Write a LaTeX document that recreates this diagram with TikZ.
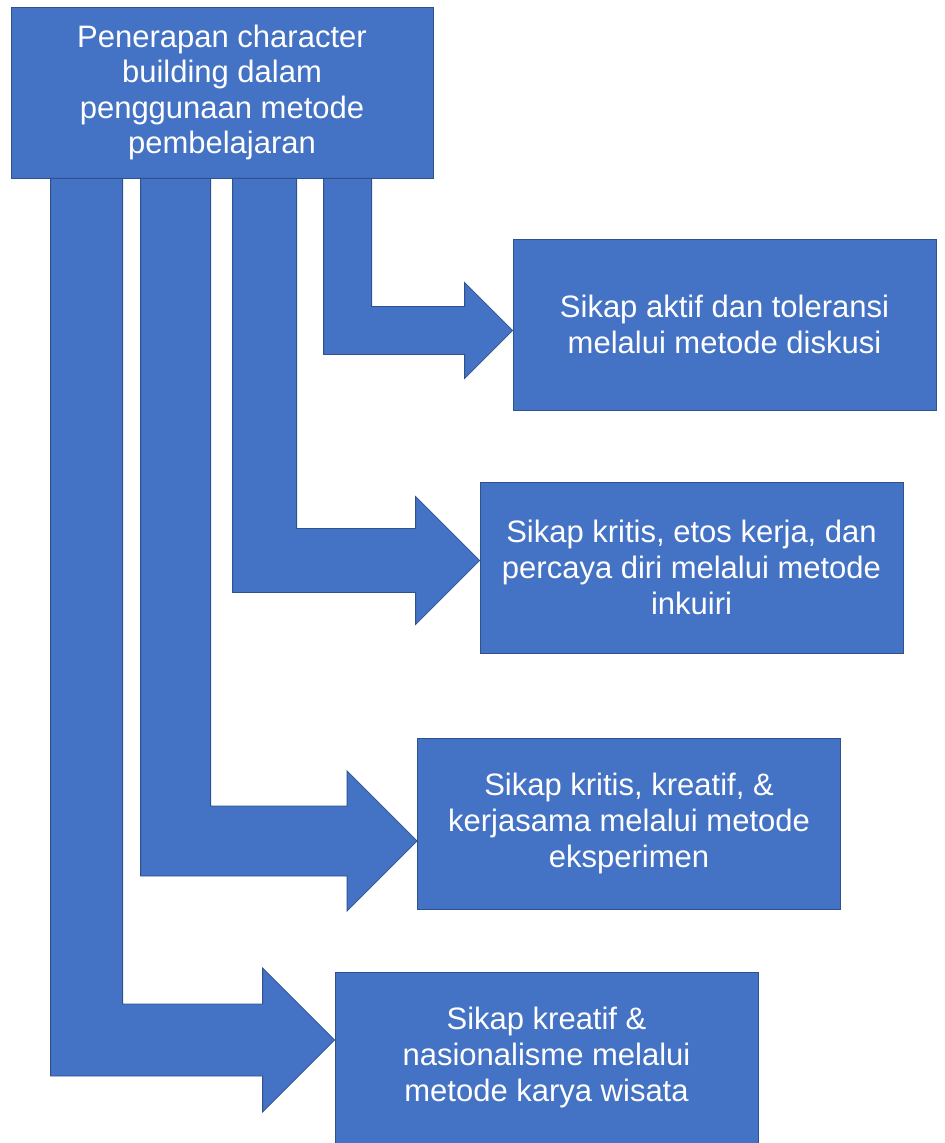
\documentclass[tikz,border=0pt]{standalone}
\usepackage{fontspec}
\setmainfont{Liberation Sans}
\usetikzlibrary{calc, positioning}

\definecolor{boxblue}{RGB}{68,114,196}
\definecolor{boxedge}{RGB}{47,82,143}

% fat bent arrow: start on the source box, tip on the target box, shaft width
\newcommand{\bentarrow}[3]{%
  \fill[arrowfill] let \p1 = (#1), \p2 = (#2) in
    (\x1,\y1) -- (\x1+#3,\y1) -- (\x1+#3,\y2+#3/2) -- (\x2-#3,\y2+#3/2)
    -- (\x2-#3,\y2+#3) -- (\x2,\y2) -- (\x2-#3,\y2-#3) -- (\x2-#3,\y2-#3/2)
    -- (\x1,\y2-#3/2) -- cycle;
}

\begin{document}
\begin{tikzpicture}[
    x=0.5pt, y=-0.5pt,
    every node/.style={draw=boxedge, fill=boxblue, rectangle, align=center, inner sep=0pt, line width=0.4pt, text=white, font=\fontsize{15.5}{17.8}\selectfont},
    topbox/.style={minimum width=211pt, minimum height=85.5pt},
    methodbox/.style={minimum width=211.5pt, minimum height=85.5pt},
    arrowfill/.style={fill=boxblue, draw=boxedge, line width=0.4pt}
]
\useasboundingbox (0,0) rectangle (944,1143);

\node[topbox] (top) at (222,92.5) {Penerapan character\\building dalam\\penggunaan metode\\pembelajaran};

\node[methodbox] (b1) at (724.5,324.5) {Sikap aktif dan toleransi\\melalui metode diskusi};
\node[methodbox] (b2) at (691.5,567.5) {Sikap kritis, etos kerja, dan\\percaya diri melalui metode\\inkuiri};
\node[methodbox] (b3) at (629,823.5) {Sikap kritis, kreatif, \&\\kerjasama melalui metode\\eksperimen};
\node[methodbox] (b4) at (546.5,1057.5) {Sikap kreatif \&\\nasionalisme melalui\\metode karya wisata};

\coordinate (s1) at ([xshift=156.5pt]top.south west);
\coordinate (s2) at ([xshift=111pt]top.south west);
\coordinate (s3) at ([xshift=65pt]top.south west);
\coordinate (s4) at ([xshift=20pt]top.south west);
\coordinate (t1) at ([yshift=-3pt]b1.west);
\coordinate (t2) at ([yshift=3.5pt]b2.west);
\coordinate (t3) at ([yshift=-8.75pt]b3.west);
\coordinate (t4) at ([yshift=8.75pt]b4.west);

\bentarrow{s1}{t1}{24pt}
\bentarrow{s2}{t2}{32pt}
\bentarrow{s3}{t3}{35pt}
\bentarrow{s4}{t4}{36pt}

\end{tikzpicture}
\end{document}
